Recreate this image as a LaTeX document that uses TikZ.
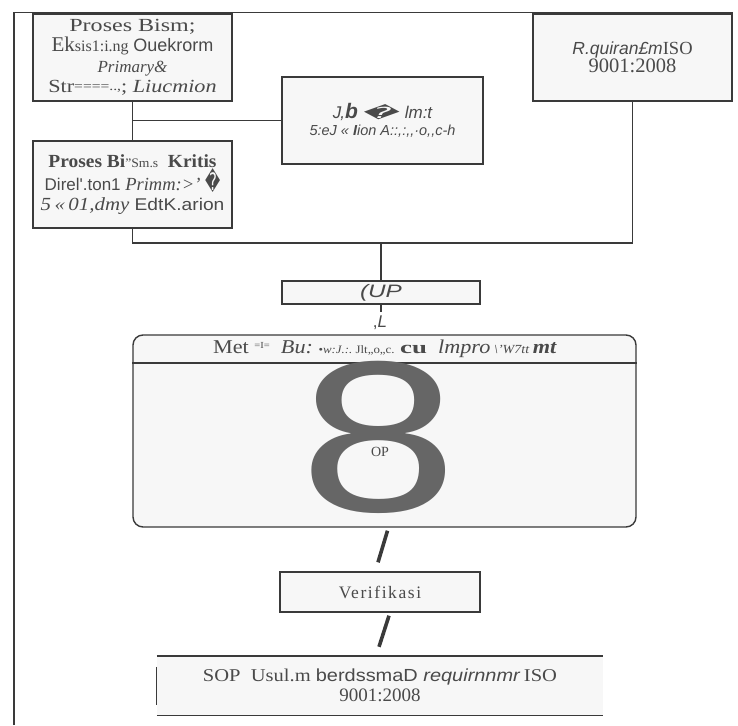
\documentclass[tikz,border=0pt]{standalone}
\usepackage{fontspec}
\usepackage{graphicx}
\setmainfont{Liberation Serif}
\newfontfamily\sansf{Liberation Sans}
\newfontfamily\djf{DejaVu Sans}
\usetikzlibrary{calc}
\definecolor{tx}{HTML}{4A4A4A}
\definecolor{ln}{HTML}{3A3A3A}
\definecolor{bf}{HTML}{F7F7F7}
\definecolor{eightc}{HTML}{666666}
\newcommand{\repch}{{\djf\char"FFFD}}
\newcommand{\hs}[2]{\scalebox{#1}[1]{#2}}
\begin{document}
\begin{tikzpicture}[x=1pt,y=-1pt,
  boxn/.style={draw=ln, line width=1.4pt, fill=bf, inner sep=0pt, text=tx, align=center,
               font=\fontsize{18.5}{20.5}\selectfont},
  lbl/.style={text=tx, align=center, inner sep=0pt, font=\fontsize{16}{20}\selectfont},
  conn/.style={draw=ln, line width=1.4pt},
  thickc/.style={draw=ln, line width=3.6pt}]
\useasboundingbox (0,0) rectangle (738,725);
\fill[white] (0,0) rectangle (738,725);
% outer frame
\coordinate (fbl) at (14,725);
\coordinate (ftl) at (14,12.5);
\coordinate (ftr) at (733,12.5);
\draw[conn] (fbl) -- (ftl) -- (ftr);

% top boxes
\node[boxn, minimum width=199pt, minimum height=87pt] (b1) at (132.5,57.5)
  {\hs{1.3}{Proses Bism;}\\
   {\fontsize{21}{20}\selectfont Ek}{\fontsize{16}{20}\selectfont sis1:i.ng} {\sansf\fontsize{18}{20}\selectfont Ouekrorm}\\
   {\fontsize{17}{20}\selectfont\itshape Primary\&}\\
   \hs{1.2}{Str\raisebox{2pt}{\fontsize{13}{9}\selectfont ====..,}; \textit{Liucmion}}};
\node[boxn, minimum width=201pt, minimum height=87pt] (b2) at (382.5,120.5)
  {{\sansf\itshape\fontsize{17}{20}\selectfont J\kern-1pt,{\fontsize{21}{20}\selectfont\bfseries b}\,\scalebox{2.1}[0.9]{\repch}\, lm:t}\\[-4pt]
   {\sansf\itshape\fontsize{14.5}{17}\selectfont 5:eJ « \textbf{I}ion A::,:,,·o,,c-h}};
\node[boxn, minimum width=199pt, minimum height=87pt] (b3) at (132.5,184.5)
  {\hs{1.05}{{\bfseries Proses Bi}{\fontsize{13}{20}\selectfont "Sm.s}\ \ {\bfseries Kritis}}\\
   {\sansf\fontsize{17}{20}\selectfont Direl'.ton1} \textit{Primm:>'}\ \scalebox{0.8}[1.3]{\repch}\\
   \hs{1.13}{\textit{5\,«\,01,dmy} {\sansf\fontsize{17}{20}\selectfont EdtK.arion}}};
\node[boxn, minimum width=199pt, minimum height=87pt] (b4) at (632.5,57.5)
  {{\sansf\itshape\fontsize{17.5}{20}\selectfont R.quiran£m}ISO\\[-3pt] {\fontsize{20.5}{20}\selectfont 9001:2008}};

% connectors among top boxes
\draw[conn] (b1.south) -- (b3.north);
\draw[conn] (b2.west) -- (b2.west -| b1.south);
\coordinate (j) at (381,243);
\draw[conn] (b3.south) |- (b4.south |- j) -- (b4.south);

% UP box
\node[boxn, minimum width=198pt, minimum height=23pt] (up) at (381,292.5)
  {\hs{1.35}{\sansf\itshape\fontsize{18}{18}\selectfont (UP}};
\draw[conn] (j) -- (up.north);
\draw[conn] (up.south) -- ++(0,7);
\node[lbl, font=\sansf\fontsize{17}{17}\selectfont] (arr) at (380,323) {,\textit{L}};

% big method box
\node[boxn, rounded corners=10pt, minimum width=503pt, minimum height=192pt] (big) at (384.5,431) {};
\draw[conn] (big.west |- 0,363) -- (big.east |- 0,363);
\node[lbl, font=\fontsize{19}{20}\selectfont] (hdr) at (385,349)
  {\scalebox{1.17}[1.03]{Met\ \raisebox{5pt}{\fontsize{9}{8}\selectfont =I=}\ \ \textit{Bu:}\ {\fontsize{11}{10}\selectfont •\textit{w:J.:.}\ Jlt,,o,,c.}\ {\fontsize{17}{16}\selectfont\bfseries\scalebox{1.35}[1]{cu}}\ \ \textit{lmpro}\,{\fontsize{12}{11}\selectfont\itshape\textbackslash'W7tt}\,\textbf{\textit{mt}}}};
\node[text=eightc, inner sep=0pt] (eight) at (379,437) {\resizebox{158pt}{150pt}{\sansf 8}};
\node[lbl, font=\fontsize{14}{13}\selectfont] (op) at (380,452) {OP};

% verification
\node[boxn, minimum width=200pt, minimum height=40pt] (ver) at (380,592)
  {\addfontfeatures{LetterSpace=9}\fontsize{17.5}{18}\selectfont Verifikasi};
\draw[thickc] ($(big.south)+(3,3)$) -- ($(ver.north)+(-2,-9)$);

% SOP box
\node[fill=bf, inner sep=0pt, minimum width=446pt, minimum height=59pt, text=tx, align=center,
      font=\fontsize{18}{20}\selectfont] (sop) at (380,685.5)
  {\hs{1.14}{SOP\ \ Usul.m {\sansf\fontsize{17.5}{20}\selectfont berdssmaD \textit{requirnnmr}}\,ISO}\\ {\fontsize{19}{20}\selectfont 9001:2008}};
\draw[conn] (sop.north west) -- (sop.north east);
\draw[conn] (sop.south west) -- (sop.south east);
\draw[draw=ln, line width=1pt] ($(sop.north west)+(0,11)$) -- ($(sop.south west)+(0,-10)$);
\draw[thickc] ($(ver.south)+(9,3)$) -- ($(sop.north)+(-1,-9)$);
\end{tikzpicture}
\end{document}
